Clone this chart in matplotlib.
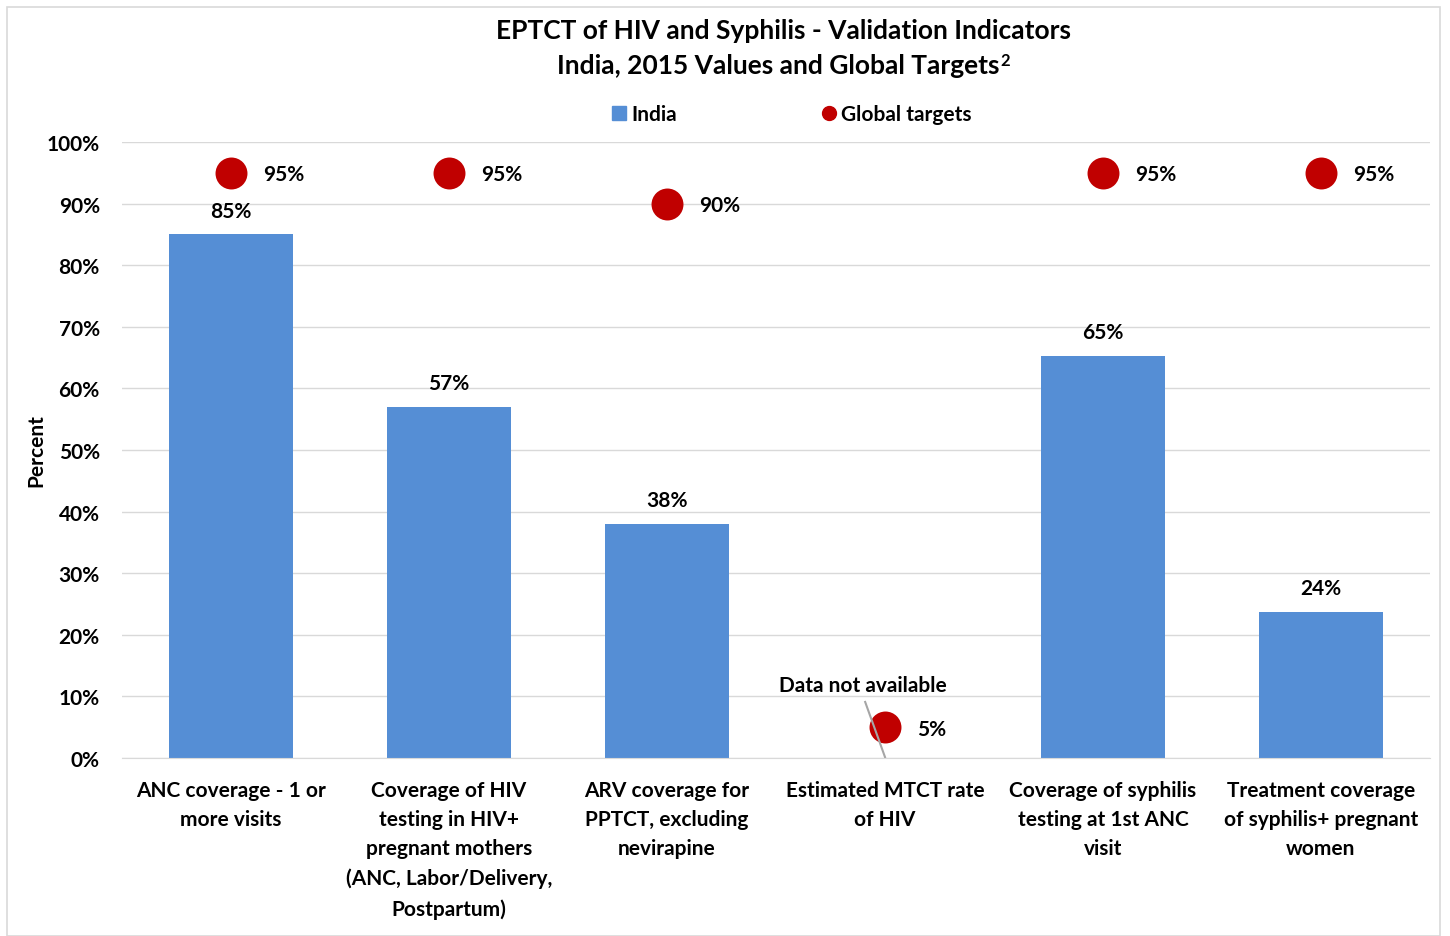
import numpy as np
import matplotlib.pyplot as plt
from matplotlib.patches import Rectangle
from matplotlib.lines import Line2D

plt.rcParams['font.family'] = ['Lato', 'DejaVu Sans']
plt.rcParams['font.weight'] = 'bold'

categories = ['ANC coverage - 1 or\nmore visits',
              'Coverage of HIV\ntesting in HIV+\npregnant mothers\n(ANC, Labor/Delivery,\nPostpartum)',
              'ARV coverage for\nPPTCT, excluding\nnevirapine',
              'Estimated MTCT rate\nof HIV',
              'Coverage of syphilis\ntesting at 1st ANC\nvisit',
              'Treatment coverage\nof syphilis+ pregnant\nwomen']
india = [85.0, 57.0, 38.0, np.nan, 65.3, 23.7]
india_labels = ['85%', '57%', '38%', '', '65%', '24%']
targets = [95, 95, 90, 5, 95, 95]
yticks = [0, 10, 20, 30, 40, 50, 60, 70, 80, 90, 100]

bar_col = '#558ED5'
dot_col = '#C00000'

fig = plt.figure(figsize=(14.5, 9.37), dpi=100)
ax = fig.add_axes([122/1450, 1 - 759/937, 1308/1450, 616/937])

x = np.arange(len(categories))
ax.bar(x, india, width=0.57, color=bar_col, zorder=2)
ax.scatter(x, targets, s=23**2, color=dot_col, zorder=3, linewidths=0)

for i in range(len(x)):
    if india_labels[i]:
        ax.annotate(india_labels[i], (x[i], india[i]), xytext=(0, 10),
                    textcoords='offset points', ha='center', va='bottom',
                    fontsize=15, fontweight='bold')
    ax.annotate('%d%%' % targets[i], (x[i], targets[i]), xytext=(23, -1),
                textcoords='offset points', ha='left', va='center',
                fontsize=15, fontweight='bold')

# missing value callout
ax.plot([2.909, 3.0], [9.1, 0.15], color='#A6A6A6', lw=1.5, zorder=4)
ax.text(2.9, 10.2, 'Data not available', ha='center', va='bottom',
        fontsize=15, fontweight='bold')

ax.set_xlim(-0.5, 5.5)
ax.set_ylim(0, 100)
ax.set_yticks(yticks)
ax.set_yticklabels(['%d%%' % t for t in yticks], fontsize=15, fontweight='bold')
ax.set_xticks(x)
ax.set_xticklabels(categories, fontsize=15, fontweight='bold', linespacing=1.57)
ax.tick_params(axis='y', length=0, pad=16)
ax.tick_params(axis='x', length=0, pad=16)
ax.grid(axis='y', color='#D9D9D9', lw=1, zorder=0)
for s in ['top', 'right', 'left']:
    ax.spines[s].set_visible(False)
ax.spines['bottom'].set_color('#D9D9D9')
ax.set_ylabel('Percent', fontsize=15, fontweight='bold', labelpad=0)

fig.text(783/1450, 1 - 31/937, 'EPTCT of HIV and Syphilis - Validation Indicators',
         ha='center', va='center', fontsize=19, fontweight='bold')
t2 = fig.text(778/1450, 1 - 66/937, 'India, 2015 Values and Global Targets',
              ha='center', va='center', fontsize=19, fontweight='bold')
ax.annotate('2', xy=(1.0, 1.0), xycoords=t2, xytext=(1, 1),
            textcoords='offset points', ha='left', va='top',
            fontsize=12, fontweight='bold', annotation_clip=False)

handles = [Line2D([], [], marker='s', ls='', color=bar_col, markersize=10),
           Line2D([], [], marker='o', ls='', color=dot_col, markersize=10)]
fig.legend(handles, ['India', 'Global targets'], loc='center',
           bbox_to_anchor=(790/1450, 1 - 115/937), ncol=2, frameon=False,
           prop={'size': 15, 'weight': 'bold'}, handletextpad=0.1,
           columnspacing=6.8, handlelength=1)

fig.patches.append(Rectangle((7/1450, 0), 1433/1450, 1 - 8/937,
                             transform=fig.transFigure, fill=False,
                             edgecolor='#D9D9D9', lw=1.2))

fig.savefig('out.png', dpi=100)
